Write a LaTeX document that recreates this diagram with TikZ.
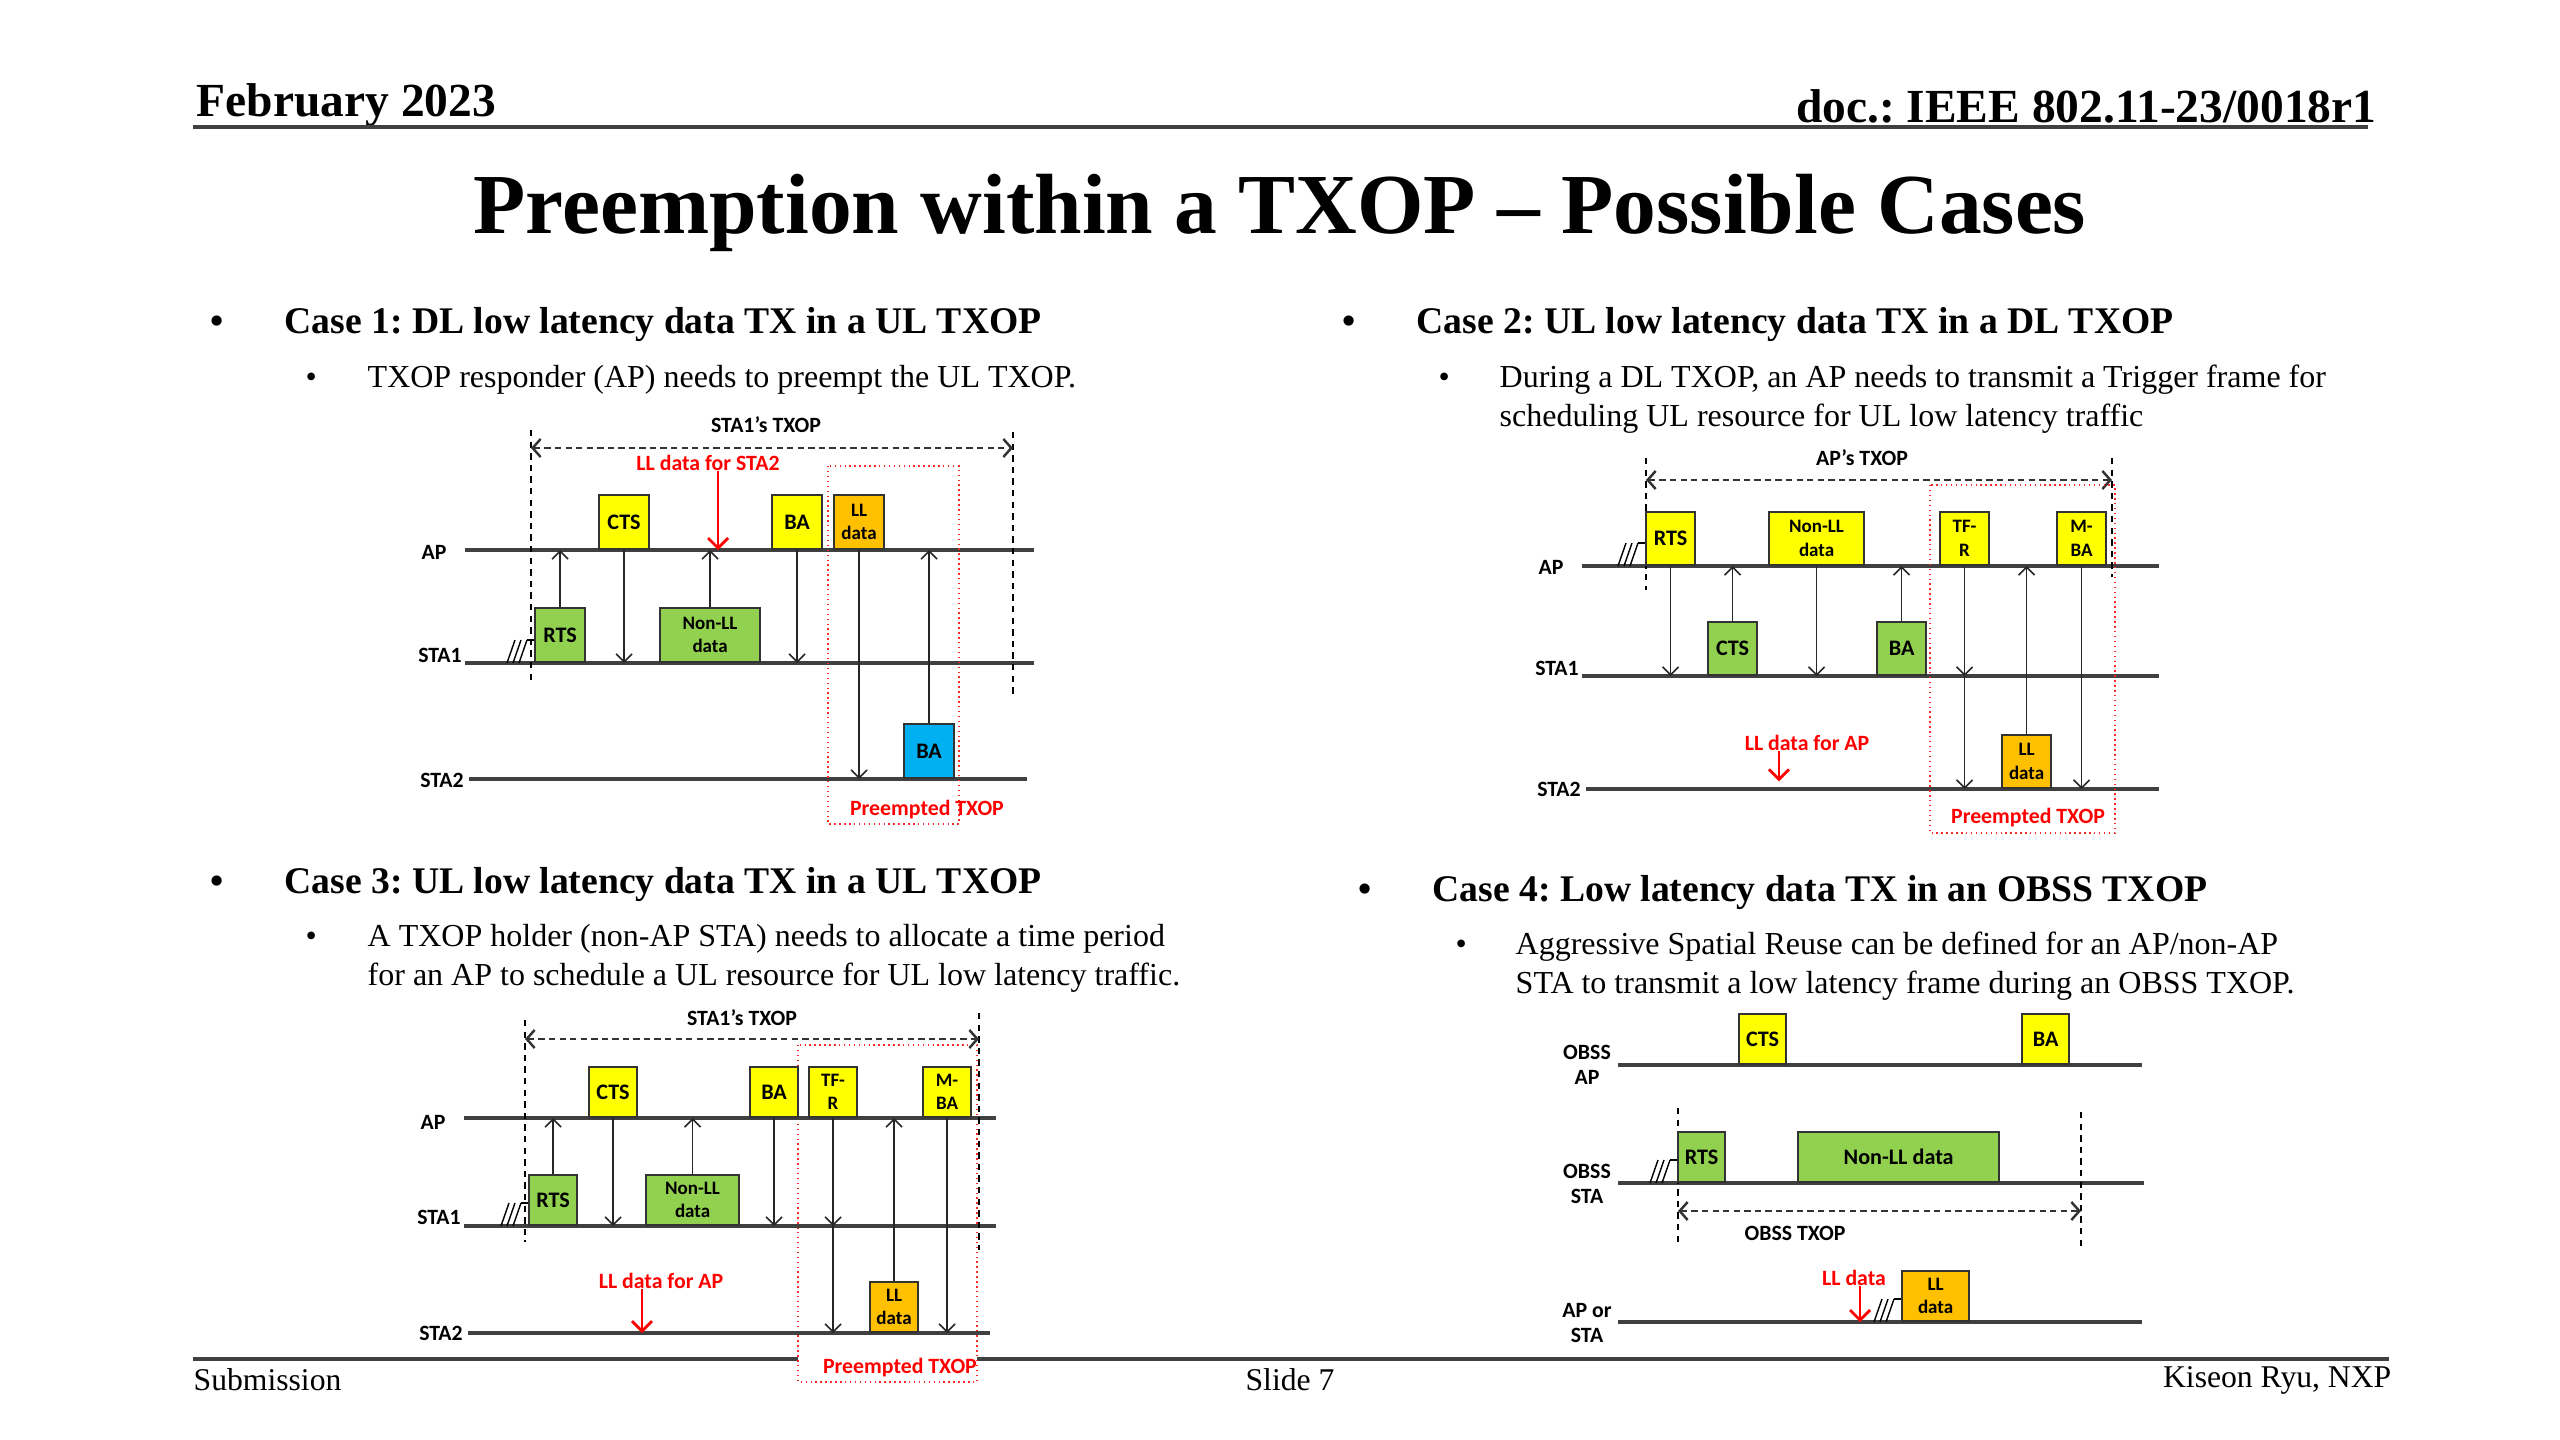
\documentclass[tikz,border=0pt]{standalone}
\usepackage{fontspec}
\setmainfont{Liberation Serif}
\newfontfamily\calibri{Carlito}
\usetikzlibrary{positioning,arrows.meta}
\frenchspacing

\definecolor{pktyellow}{HTML}{FFFF00}
\definecolor{pktgreen}{HTML}{92D050}
\definecolor{pktorange}{HTML}{FFC000}
\definecolor{pktblue}{HTML}{00B0F0}
\definecolor{llred}{HTML}{FF0000}

\tikzset{
  pkt/.style={draw=black!80, line width=0.6pt, inner sep=0pt, anchor=south west, align=center,
    font=\calibri\bfseries\fontsize{6.3}{6.6}\selectfont},
  pkt2/.style={pkt, font=\calibri\bfseries\fontsize{5.4}{6.6}\selectfont},
  c1sz/.style={minimum width=0.5cm, minimum height=0.54cm},
  c2sz/.style={minimum width=0.49cm, minimum height=0.53cm},
  c3sz/.style={minimum width=0.48cm, minimum height=0.5cm},
  c4sz/.style={minimum width=0.47cm, minimum height=0.5cm},
  lbl/.style={inner sep=0pt, align=center, font=\calibri\bfseries\fontsize{6.2}{7.2}\selectfont},
  note/.style={inner sep=0pt, text=llred, font=\calibri\bfseries\fontsize{6.2}{7}\selectfont},
  tline/.style={draw=black!75, line width=0.9pt},
  msg/.style={draw=black!85, line width=0.45pt, -{Straight Barb[length=0.8mm,width=1.6mm]}},
  llarrow/.style={draw=llred, line width=0.8pt, -{Straight Barb[length=1mm,width=2mm]}},
  bound/.style={draw=black, line width=0.55pt, dash pattern=on 1.8pt off 1.5pt},
  txopspan/.style={draw=black!80, line width=0.7pt, dash pattern=on 1.8pt off 1.2pt,
    {Straight Barb[length=0.8mm,width=1.8mm]}-{Straight Barb[length=0.8mm,width=1.8mm]}},
  preempt/.style={draw=llred!85, line width=0.4pt, densely dotted},
  backoff/.pic={
    \foreach \d in {0,6,12}
      \draw[line width=0.4pt] (-27+\d,0) -- (-19+\d,-23);
    \draw[line width=0.4pt] (-7,-23) -- (0,-23);
  },
  hdr/.style={inner sep=0pt, font=\bfseries\fontsize{13.5}{16}\selectfont},
  ttl/.style={inner sep=0pt, font=\bfseries\fontsize{24.3}{28}\selectfont},
  casehd/.style={inner sep=0pt, anchor=west, font=\bfseries\fontsize{10.7}{13}\selectfont},
  casetxt/.style={inner sep=0pt, anchor=west, align=left, font=\fontsize{9.1}{11.1}\selectfont},
  foot/.style={inner sep=0pt, font=\fontsize{9}{11}\selectfont},
  rule/.style={draw=black!75, line width=1pt}
}

\begin{document}
\begin{tikzpicture}[x=0.01cm, y=-0.01cm]
\useasboundingbox (0,0) rectangle (2560,1440);

% header and title
\node[hdr, anchor=west] (date) at (196,105) {February 2023};
\node[hdr, anchor=east] (docid) at (2377,106) {doc.: IEEE 802.11-23/0018r1};
\draw[rule] (193,127) -- (2368,127);
\node[ttl] (title) at (1280,213) {Preemption within a TXOP -- Possible Cases};

% bullet texts
\node[casehd] (b1) at (210,325) {•};
\node[casehd] (h1) at (284,325) {Case 1: DL low latency data TX in a UL TXOP};
\node[casetxt] (sb1) at (305,380) {•};
\node[casetxt] (t1) at (367,380) {TXOP responder (AP) needs to preempt the UL TXOP.};
\node[casehd] (b2) at (1342,325) {•};
\node[casehd] (h2) at (1416,325) {Case 2: UL low latency data TX in a DL TXOP};
\node[casetxt] (sb2) at (1438,380) {•};
\node[casetxt] (t2) at (1499,399) {During a DL TXOP, an AP needs to transmit a Trigger frame for\\scheduling UL resource for UL low latency traffic};
\node[casehd] (b3) at (210,885) {•};
\node[casehd] (h3) at (284,885) {Case 3: UL low latency data TX in a UL TXOP};
\node[casetxt] (sb3) at (305,939) {•};
\node[casetxt] (t3) at (367,958) {A TXOP holder (non-AP STA) needs to allocate a time period\\for an AP to schedule a UL resource for UL low latency traffic.};
\node[casehd] (b4) at (1358,893) {•};
\node[casehd] (h4) at (1432,893) {Case 4: Low latency data TX in an OBSS TXOP};
\node[casetxt] (sb4) at (1455,947) {•};
\node[casetxt] (t4) at (1515,966) {Aggressive Spatial Reuse can be defined for an AP/non-AP\\STA to transmit a low latency frame during an OBSS TXOP.};

% footer
\draw[rule] (193,1359) -- (2389,1359);
\node[foot, anchor=west] (subm) at (193,1380) {Submission};
\node[foot] (slide) at (1290,1380) {Slide 7};
\node[foot, anchor=east] (author) at (2392,1380) {Kiseon Ryu, NXP};

% ---- case 1 ----
\coordinate (c1apW) at (465,550); \coordinate (c1apE) at (1034,550);
\coordinate (c1s1W) at (465,663); \coordinate (c1s1E) at (1034,663);
\coordinate (c1s2W) at (469,779); \coordinate (c1s2E) at (1027,779);
\draw[tline] (c1apW) -- (c1apE);
\draw[tline] (c1s1W) -- (c1s1E);
\draw[tline] (c1s2W) -- (c1s2E);
\node[lbl] (c1apL) at (434,552) {AP};
\node[lbl] (c1s1L) at (440,655) {STA1};
\node[lbl] (c1s2L) at (442,780) {STA2};
\draw[bound] (531,430) -- (531,680);
\draw[bound] (1013,432) -- (1013,695);
\coordinate (c1txL) at (531,448); \coordinate (c1txR) at (1013,448);
\draw[txopspan] (c1txL) -- (c1txR);
\node[lbl] (c1txop) at (766,425) {STA1’s TXOP};
\draw[preempt] (828,466) rectangle (959,824);
\node[note] (c1pre) at (927,810) {Preempted TXOP};

\node[pkt, c1sz, fill=pktgreen] (c1rts) at (534,663) {RTS};
\node[pkt, c1sz, fill=pktyellow] (c1cts) at (598,550) {CTS};
\node[pkt2, c1sz, minimum width=1cm, fill=pktgreen] (c1nll) at (659,663) {Non-LL\\data};
\node[pkt, c1sz, fill=pktyellow] (c1ba) at (771,550) {BA};
\node[pkt2, c1sz, fill=pktorange] (c1ll) at (833,550) {LL\\data};
\node[pkt, c1sz, fill=pktblue] (c1bab) at (903,779) {BA};
\pic at (c1rts.south west) {backoff};

\draw[msg] (c1rts.north) -- (c1rts.north |- c1apW);
\draw[msg] (c1cts.south) -- (c1cts.south |- c1s1W);
\draw[msg] (c1nll.north) -- (c1nll.north |- c1apW);
\draw[msg] (c1ba.south) -- (c1ba.south |- c1s1W);
\draw[msg] (c1ll.south) -- (c1ll.south |- c1s2W);
\draw[msg] (c1bab.north) -- (c1bab.north |- c1apW);
\node[note] (c1llnote) at (708,463) {LL data for STA2};
\draw[llarrow] ([xshift=0.1cm]c1llnote.south) -- ([xshift=0.1cm]c1llnote.south |- c1apW);

% ---- case 2 ----
\coordinate (c2apW) at (1582,566); \coordinate (c2apE) at (2159,566);
\coordinate (c2s1W) at (1582,676); \coordinate (c2s1E) at (2159,676);
\coordinate (c2s2W) at (1586,789); \coordinate (c2s2E) at (2159,789);
\draw[tline] (c2apW) -- (c2apE);
\draw[tline] (c2s1W) -- (c2s1E);
\draw[tline] (c2s2W) -- (c2s2E);
\node[lbl] (c2apL) at (1551,567) {AP};
\node[lbl] (c2s1L) at (1557,668) {STA1};
\node[lbl] (c2s2L) at (1559,789) {STA2};
\draw[bound] (1646,458) -- (1646,590);
\draw[bound] (2112,458) -- (2112,577);
\coordinate (c2txL) at (1646,480); \coordinate (c2txR) at (2112,480);
\draw[txopspan] (c2txL) -- (c2txR);
\node[lbl] (c2txop) at (1862,458) {AP’s TXOP};
\draw[preempt] (1930,485) rectangle (2115,833);
\node[note] (c2pre) at (2028,818) {Preempted TXOP};

\node[pkt, c2sz, fill=pktyellow] (c2rts) at (1645,566) {RTS};
\node[pkt2, c2sz, minimum width=0.95cm, fill=pktyellow] (c2nll) at (1768,566) {Non-LL\\data};
\node[pkt2, c2sz, fill=pktyellow] (c2tfr) at (1939,566) {TF-\\R};
\node[pkt2, c2sz, fill=pktyellow] (c2mba) at (2056,566) {M-\\BA};
\node[pkt, c2sz, fill=pktgreen] (c2cts) at (1707,676) {CTS};
\node[pkt, c2sz, fill=pktgreen] (c2ba) at (1876,676) {BA};
\node[pkt2, c2sz, fill=pktorange] (c2ll) at (2001,789) {LL\\data};
\pic at (c2rts.south west) {backoff};

\draw[msg] (c2rts.south) -- (c2rts.south |- c2s1W);
\draw[msg] (c2cts.north) -- (c2cts.north |- c2apW);
\draw[msg] (c2nll.south) -- (c2nll.south |- c2s1W);
\draw[msg] (c2ba.north) -- (c2ba.north |- c2apW);
\draw[msg] (c2tfr.south) -- (c2tfr.south |- c2s1W);
\draw[msg] (c2tfr.south) -- (c2tfr.south |- c2s2W);
\draw[msg] (c2ll.north) -- (c2ll.north |- c2apW);
\draw[msg] (c2mba.south) -- (c2mba.south |- c2s2W);
\node[note] (c2llnote) at (1807,743) {LL data for AP};
\draw[llarrow] ([xshift=-0.28cm]c2llnote.south) -- ++(0,30);

% ---- case 3 ----
\draw[preempt, fill=white] (798,1045) rectangle (977,1382);
\node[note] (c3pre) at (900,1368) {Preempted TXOP};
\coordinate (c3apW) at (464,1118); \coordinate (c3apE) at (996,1118);
\coordinate (c3s1W) at (464,1226); \coordinate (c3s1E) at (996,1226);
\coordinate (c3s2W) at (468,1333); \coordinate (c3s2E) at (990,1333);
\draw[tline] (c3apW) -- (c3apE);
\draw[tline] (c3s1W) -- (c3s1E);
\draw[tline] (c3s2W) -- (c3s2E);
\node[lbl] (c3apL) at (433,1122) {AP};
\node[lbl] (c3s1L) at (439,1217) {STA1};
\node[lbl] (c3s2L) at (441,1333) {STA2};
\draw[bound] (525,1020) -- (525,1242);
\draw[bound] (979,1013) -- (979,1250);
\coordinate (c3txL) at (525,1039); \coordinate (c3txR) at (979,1039);
\draw[txopspan] (c3txL) -- (c3txR);
\node[lbl] (c3txop) at (742,1018) {STA1’s TXOP};

\node[pkt, c3sz, fill=pktgreen] (c3rts) at (528,1226) {RTS};
\node[pkt, c3sz, fill=pktyellow] (c3cts) at (588,1118) {CTS};
\node[pkt2, c3sz, minimum width=0.93cm, fill=pktgreen] (c3nll) at (645,1226) {Non-LL\\data};
\node[pkt, c3sz, fill=pktyellow] (c3ba) at (749,1118) {BA};
\node[pkt2, c3sz, fill=pktyellow] (c3tfr) at (808,1118) {TF-\\R};
\node[pkt2, c3sz, fill=pktyellow] (c3mba) at (922,1118) {M-\\BA};
\node[pkt2, c3sz, fill=pktorange] (c3ll) at (869,1333) {LL\\data};
\pic at (c3rts.south west) {backoff};

\draw[msg] (c3rts.north) -- (c3rts.north |- c3apW);
\draw[msg] (c3cts.south) -- (c3cts.south |- c3s1W);
\draw[msg] (c3nll.north) -- (c3nll.north |- c3apW);
\draw[msg] (c3ba.south) -- (c3ba.south |- c3s1W);
\draw[msg] (c3tfr.south) -- (c3tfr.south |- c3s1W);
\draw[msg] (c3tfr.south) -- (c3tfr.south |- c3s2W);
\draw[msg] (c3ll.north) -- (c3ll.north |- c3apW);
\draw[msg] (c3mba.south) -- (c3mba.south |- c3s2W);
\node[note] (c3llnote) at (661,1281) {LL data for AP};
\draw[llarrow] ([xshift=-0.19cm]c3llnote.south) -- ([xshift=-0.19cm]c3llnote.south |- c3s2W);

% ---- case 4 ----
\coordinate (c4apW) at (1618,1065); \coordinate (c4apE) at (2142,1065);
\coordinate (c4stW) at (1618,1183); \coordinate (c4stE) at (2144,1183);
\coordinate (c4llW) at (1618,1322); \coordinate (c4llE) at (2142,1322);
\draw[tline] (c4apW) -- (c4apE);
\draw[tline] (c4stW) -- (c4stE);
\draw[tline] (c4llW) -- (c4llE);
\node[lbl] (c4apL) at (1587,1065) {OBSS\\AP};
\node[lbl] (c4stL) at (1587,1184) {OBSS\\STA};
\node[lbl] (c4llL) at (1587,1323) {AP or\\STA};
\draw[bound] (1678,1108) -- (1678,1243);
\draw[bound] (2081,1112) -- (2081,1247);
\coordinate (c4txL) at (1678,1211); \coordinate (c4txR) at (2081,1211);
\draw[txopspan] (c4txL) -- (c4txR);
\node[lbl] (c4txop) at (1795,1233) {OBSS TXOP};

\node[pkt, c4sz, fill=pktyellow] (c4cts) at (1738,1065) {CTS};
\node[pkt, c4sz, fill=pktyellow] (c4ba) at (2021,1065) {BA};
\node[pkt, c4sz, fill=pktgreen] (c4rts) at (1677,1183) {RTS};
\node[pkt, c4sz, minimum width=2.01cm, fill=pktgreen] (c4nll) at (1797,1183) {Non-LL data};
\node[pkt2, c4sz, minimum width=0.67cm, fill=pktorange] (c4ll) at (1901,1322) {LL\\data};
\pic at (c4rts.south west) {backoff};
\pic at (c4ll.south west) {backoff};
\node[note] (c4llnote) at (1854,1278) {LL data};
\draw[llarrow] ([xshift=0.06cm]c4llnote.south) -- ([xshift=0.06cm]c4llnote.south |- c4llW);

\end{tikzpicture}
\end{document}
